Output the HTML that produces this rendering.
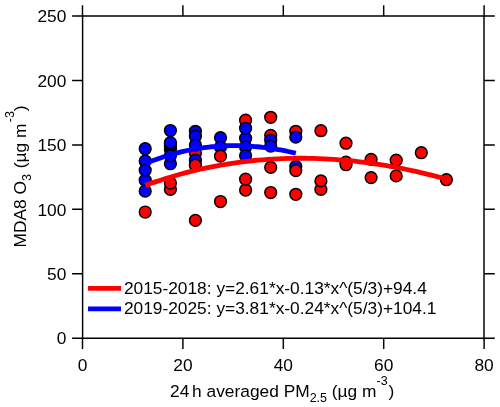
<!DOCTYPE html>
<html><head><meta charset="utf-8"><title>MDA8 O3 vs PM2.5</title>
<style>
html,body{margin:0;padding:0;background:#fff;}
svg{display:block;}
text{font-family:"Liberation Sans",sans-serif;fill:#000;}
.t{font-size:17.33px;}
.s{font-size:12.5px;}
.ax{stroke:#000;stroke-width:1.45;fill:none;}
.p{stroke:#000;stroke-width:1.45;}
</style></head><body>
<svg width="500" height="407" viewBox="0 0 500 407">
<rect width="500" height="407" fill="#fff"/>

<g class="p">
<circle cx="145.2" cy="148.7" r="5.9" fill="#0000ff"/>
<circle cx="145.2" cy="161.0" r="5.9" fill="#0000ff"/>
<circle cx="145.2" cy="180.2" r="5.9" fill="#0000ff"/>
<circle cx="145.2" cy="170.1" r="5.9" fill="#0000ff"/>
<circle cx="145.2" cy="191.0" r="5.9" fill="#0000ff"/>
<circle cx="145.2" cy="212.0" r="5.9" fill="#ff0000"/>
<circle cx="170.4" cy="149.5" r="5.9" fill="#ff0000"/>
<circle cx="170.4" cy="130.5" r="5.9" fill="#0000ff"/>
<circle cx="170.4" cy="146.3" r="5.9" fill="#0000ff"/>
<circle cx="170.4" cy="143.8" r="5.9" fill="#0000ff"/>
<circle cx="170.4" cy="142.6" r="5.9" fill="#0000ff"/>
<circle cx="170.4" cy="163.7" r="5.9" fill="#0000ff"/>
<circle cx="170.4" cy="155.8" r="5.9" fill="#0000ff"/>
<circle cx="170.4" cy="189.4" r="5.9" fill="#ff0000"/>
<circle cx="170.4" cy="183.0" r="5.9" fill="#ff0000"/>
<circle cx="195.4" cy="131.3" r="5.9" fill="#0000ff"/>
<circle cx="195.4" cy="136.3" r="5.9" fill="#0000ff"/>
<circle cx="195.4" cy="153.0" r="5.9" fill="#ff0000"/>
<circle cx="195.4" cy="145.0" r="5.9" fill="#0000ff"/>
<circle cx="195.4" cy="160.2" r="5.9" fill="#0000ff"/>
<circle cx="195.4" cy="165.2" r="5.9" fill="#ff0000"/>
<circle cx="195.4" cy="220.4" r="5.9" fill="#ff0000"/>
<circle cx="220.5" cy="137.7" r="5.9" fill="#0000ff"/>
<circle cx="220.5" cy="147.0" r="5.9" fill="#0000ff"/>
<circle cx="220.5" cy="156.1" r="5.9" fill="#ff0000"/>
<circle cx="220.5" cy="201.5" r="5.9" fill="#ff0000"/>
<circle cx="245.6" cy="120.2" r="5.9" fill="#ff0000"/>
<circle cx="245.6" cy="138.2" r="5.9" fill="#0000ff"/>
<circle cx="245.6" cy="128.3" r="5.9" fill="#0000ff"/>
<circle cx="245.6" cy="147.0" r="5.9" fill="#0000ff"/>
<circle cx="245.6" cy="155.8" r="5.9" fill="#0000ff"/>
<circle cx="245.6" cy="190.0" r="5.9" fill="#ff0000"/>
<circle cx="245.6" cy="179.2" r="5.9" fill="#ff0000"/>
<circle cx="270.7" cy="117.3" r="5.9" fill="#ff0000"/>
<circle cx="270.7" cy="135.4" r="5.9" fill="#ff0000"/>
<circle cx="270.7" cy="140.2" r="5.9" fill="#0000ff"/>
<circle cx="270.7" cy="146.0" r="5.9" fill="#0000ff"/>
<circle cx="270.7" cy="167.4" r="5.9" fill="#ff0000"/>
<circle cx="270.7" cy="192.5" r="5.9" fill="#ff0000"/>
<circle cx="295.8" cy="131.3" r="5.9" fill="#ff0000"/>
<circle cx="295.8" cy="137.0" r="5.9" fill="#0000ff"/>
<circle cx="295.8" cy="166.4" r="5.9" fill="#0000ff"/>
<circle cx="295.8" cy="170.6" r="5.9" fill="#ff0000"/>
<circle cx="295.8" cy="194.3" r="5.9" fill="#ff0000"/>
<circle cx="320.9" cy="130.7" r="5.9" fill="#ff0000"/>
<circle cx="320.9" cy="189.4" r="5.9" fill="#ff0000"/>
<circle cx="320.9" cy="180.9" r="5.9" fill="#ff0000"/>
<circle cx="346.0" cy="143.2" r="5.9" fill="#ff0000"/>
<circle cx="346.0" cy="162.2" r="5.9" fill="#ff0000"/>
<circle cx="346.0" cy="164.7" r="5.9" fill="#ff0000"/>
<circle cx="371.1" cy="159.4" r="5.9" fill="#ff0000"/>
<circle cx="371.1" cy="177.6" r="5.9" fill="#ff0000"/>
<circle cx="396.2" cy="160.2" r="5.9" fill="#ff0000"/>
<circle cx="396.2" cy="175.9" r="5.9" fill="#ff0000"/>
<circle cx="421.3" cy="152.7" r="5.9" fill="#ff0000"/>
<circle cx="446.4" cy="179.7" r="5.9" fill="#ff0000"/>
</g>
<path d="M145.25 185.38 L150.36 183.58 L155.46 181.87 L160.57 180.22 L165.67 178.57 L170.78 176.99 L175.88 175.48 L180.99 174.05 L186.09 172.68 L191.20 171.38 L196.30 170.15 L201.41 168.99 L206.51 167.89 L211.62 166.86 L216.72 165.90 L221.83 164.99 L226.93 164.16 L232.04 163.37 L237.14 162.62 L242.25 161.93 L247.35 161.31 L252.46 160.74 L257.56 160.23 L262.67 159.79 L267.77 159.40 L272.88 159.06 L277.98 158.79 L283.09 158.57 L288.19 158.41 L293.30 158.30 L298.40 158.25 L303.51 158.25 L308.61 158.31 L313.72 158.42 L318.82 158.59 L323.93 158.81 L329.03 159.08 L334.14 159.40 L339.24 159.77 L344.35 160.20 L349.45 160.68 L354.56 161.21 L359.66 161.79 L364.77 162.42 L369.87 163.10 L374.98 163.83 L380.08 164.61 L385.19 165.44 L390.29 166.31 L395.40 167.24 L400.50 168.21 L405.61 169.24 L410.71 170.31 L415.82 171.43 L420.92 172.59 L426.03 173.80 L431.13 175.06 L436.24 176.37 L441.34 177.72 L446.45 179.12" fill="none" stroke="#ff0000" stroke-width="4.8"/>
<path d="M145.25 163.60 L147.80 162.57 L150.36 161.57 L152.91 160.61 L155.46 159.68 L158.01 158.79 L160.57 157.92 L163.12 157.06 L165.67 156.23 L168.22 155.43 L170.78 154.67 L173.33 153.94 L175.88 153.24 L178.43 152.57 L180.99 151.94 L183.54 151.33 L186.09 150.76 L188.64 150.23 L191.20 149.72 L193.75 149.25 L196.30 148.81 L198.85 148.39 L201.41 148.01 L203.96 147.65 L206.51 147.32 L209.06 147.03 L211.62 146.76 L214.17 146.52 L216.72 146.31 L219.27 146.12 L221.83 145.97 L224.38 145.84 L226.93 145.74 L229.48 145.66 L232.04 145.63 L234.59 145.62 L237.14 145.64 L239.69 145.69 L242.25 145.76 L244.80 145.86 L247.35 145.98 L249.90 146.14 L252.46 146.31 L255.01 146.52 L257.56 146.75 L260.11 147.00 L262.67 147.29 L265.22 147.59 L267.77 147.93 L270.32 148.28 L272.88 148.67 L275.43 149.07 L277.98 149.51 L280.53 149.96 L283.09 150.45 L285.64 150.95 L288.19 151.48 L290.74 152.04 L293.30 152.62 L295.85 153.22" fill="none" stroke="#0000ff" stroke-width="4.8"/>
<g class="ax">
<path d="M82.6 16.0H484.0V338.2H82.6Z"/>
<path d="M72.1 338.2H82.6 M484.0 338.2H494.8"/>
<path d="M72.1 273.8H82.6 M484.0 273.8H494.8"/>
<path d="M72.1 209.3H82.6 M484.0 209.3H494.8"/>
<path d="M72.1 144.9H82.6 M484.0 144.9H494.8"/>
<path d="M72.1 80.4H82.6 M484.0 80.4H494.8"/>
<path d="M72.1 16.0H82.6 M484.0 16.0H494.8"/>
<path d="M82.5 5.2V16.0 M82.5 338.2V349.1"/>
<path d="M182.9 5.2V16.0 M182.9 338.2V349.1"/>
<path d="M283.3 5.2V16.0 M283.3 338.2V349.1"/>
<path d="M383.7 5.2V16.0 M383.7 338.2V349.1"/>
<path d="M484.1 5.2V16.0 M484.1 338.2V349.1"/>
</g>
<g class="t">
<text x="66.3" y="344.4" text-anchor="end">0</text>
<text x="66.3" y="280.0" text-anchor="end">50</text>
<text x="66.3" y="215.5" text-anchor="end">100</text>
<text x="66.3" y="151.1" text-anchor="end">150</text>
<text x="66.3" y="86.6" text-anchor="end">200</text>
<text x="66.3" y="22.2" text-anchor="end">250</text>
<text x="82.5" y="371" text-anchor="middle">0</text>
<text x="182.9" y="371" text-anchor="middle">20</text>
<text x="283.3" y="371" text-anchor="middle">40</text>
<text x="383.7" y="371" text-anchor="middle">60</text>
<text x="484.1" y="371" text-anchor="middle">80</text>
</g>
<path d="M88 288.3H121" stroke="#ff0000" stroke-width="4.7"/>
<path d="M88 308.8H121" stroke="#0000ff" stroke-width="4.7"/>
<text class="t" x="123.9" y="294">2015-2018: y=2.61*x-0.13*x^(5/3)+94.4</text>
<text class="t" x="123.9" y="314">2019-2025: y=3.81*x-0.24*x^(5/3)+104.1</text>
<text class="t" x="170" y="397.3">24<tspan dx="-2">&#160;</tspan>h averaged PM<tspan class="s" dy="4.5">2.5</tspan><tspan dy="-4.5"> (µg m</tspan><tspan class="s" dy="-12" dx="0">-3</tspan><tspan dy="12" dx="0.9">)</tspan></text>
<text class="t" transform="translate(26 247.5) rotate(-90)" x="0" y="0">MDA8 O<tspan class="s" dy="5">3</tspan><tspan dy="-5" dx="1"> (µg m</tspan><tspan class="s" dy="-11.8" dx="1.5">-3</tspan><tspan dy="11.8" dx="-0.2">)</tspan></text>
</svg></body></html>
